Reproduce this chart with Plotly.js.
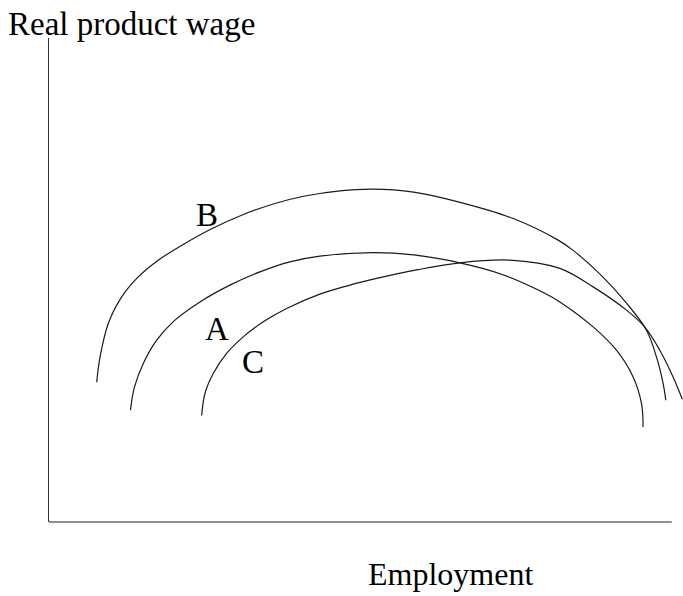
<!DOCTYPE html>
<html>
<head>
<meta charset="utf-8">
<script src="https://cdn.plot.ly/plotly-3.0.1.min.js"></script>
<style>
  html, body { margin: 0; padding: 0; background: #fff; }
  #chart { width: 683px; height: 596px; }
</style>
</head>
<body>
<div id="chart"></div>
<script>
// curve B (highest arch)
const bX = [0.766, 0.819, 0.952, 1.167, 1.433, 1.754, 2.183, 2.612, 3.093, 3.628, 4.109, 4.671, 5.201,
            5.855, 6.554, 7.464, 8.162, 8.411, 8.892, 9.273, 9.594, 9.754, 9.861, 9.904];
const bY = [2.888, 3.405, 4.102, 4.652, 5.065, 5.410, 5.756, 6.060, 6.339, 6.581, 6.736, 6.843, 6.878,
            6.816, 6.620, 6.266, 5.834, 5.617, 5.065, 4.521, 3.963, 3.411, 2.861, 2.516];

// curve A (middle)
const aX = [1.308, 1.372, 1.514, 1.729, 2.022, 2.424, 2.905, 3.387, 3.868, 4.350, 5.201, 5.855, 6.597,
            7.254, 7.952, 8.202, 8.737, 9.112, 9.379, 9.514, 9.539];
const aY = [2.309, 2.785, 3.275, 3.757, 4.170, 4.548, 4.894, 5.169, 5.375, 5.493, 5.565, 5.518, 5.355,
            5.125, 4.732, 4.548, 4.031, 3.549, 2.998, 2.448, 1.964];

// curve C (shifted right)
const cX = [2.451, 2.504, 2.637, 2.852, 3.119, 3.440, 3.815, 4.350, 4.831, 5.260, 5.923, 6.597, 7.400,
            8.202, 8.737, 9.273, 9.567, 9.807, 10.021, 10.169];
const cY = [2.199, 2.655, 3.068, 3.482, 3.825, 4.135, 4.412, 4.708, 4.894, 5.032, 5.214, 5.355, 5.410,
            5.239, 4.858, 4.377, 4.025, 3.550, 2.998, 2.537];

const curveNames = ['B', 'A', 'C'];
const xTitle = 'Employment';
const yTitle = 'Real product wage';

const serif = 'Liberation Serif, Times New Roman, serif';

function curve(x, y, name) {
    return {
        x: x, y: y, name: name,
        type: 'scatter', mode: 'lines',
        line: { color: '#1a1a1a', width: 1.2, shape: 'spline', smoothing: 1 },
        hoverinfo: 'skip'
    };
}

const traces = [
    curve(bX, bY, curveNames[0]),
    curve(aX, aY, curveNames[1]),
    curve(cX, cY, curveNames[2])
];

const layout = {
    width: 683, height: 596,
    margin: { l: 49, r: 0, t: 38, b: 74 },
    paper_bgcolor: '#fff', plot_bgcolor: '#fff',
    showlegend: false,
    xaxis: {
        range: [0, 10.18], showgrid: false, zeroline: false,
        showline: false, showticklabels: false, ticks: ''
    },
    yaxis: {
        range: [0, 10], showgrid: false, zeroline: false,
        showline: true, linecolor: '#333', linewidth: 1,
        showticklabels: false, ticks: ''
    },
    shapes: [
        // x axis stops short of the right edge
        { type: 'line', xref: 'paper', yref: 'paper', x0: 0, x1: 0.9823, y0: 0, y1: 0,
          line: { color: '#222', width: 1.2 } }
    ],
    annotations: [
        { text: yTitle, xref: 'paper', yref: 'paper', x: -0.068, y: 1.029,
          xanchor: 'left', yanchor: 'middle', showarrow: false,
          font: { family: serif, size: 33, color: '#000' } },
        { text: xTitle, xref: 'paper', yref: 'paper', x: 0.6325, y: -0.108,
          xanchor: 'center', yanchor: 'middle', showarrow: false,
          font: { family: serif, size: 32, color: '#000' } },
        { text: curveNames[0], x: 2.544, y: 6.34, showarrow: false,
          font: { family: serif, size: 33, color: '#000' } },
        { text: curveNames[1], x: 2.705, y: 3.98, showarrow: false,
          font: { family: serif, size: 33, color: '#000' } },
        { text: curveNames[2], x: 3.274, y: 3.30, showarrow: false,
          font: { family: serif, size: 33, color: '#000' } }
    ]
};

Plotly.newPlot('chart', traces, layout, { displayModeBar: false, staticPlot: true });
</script>
</body>
</html>
